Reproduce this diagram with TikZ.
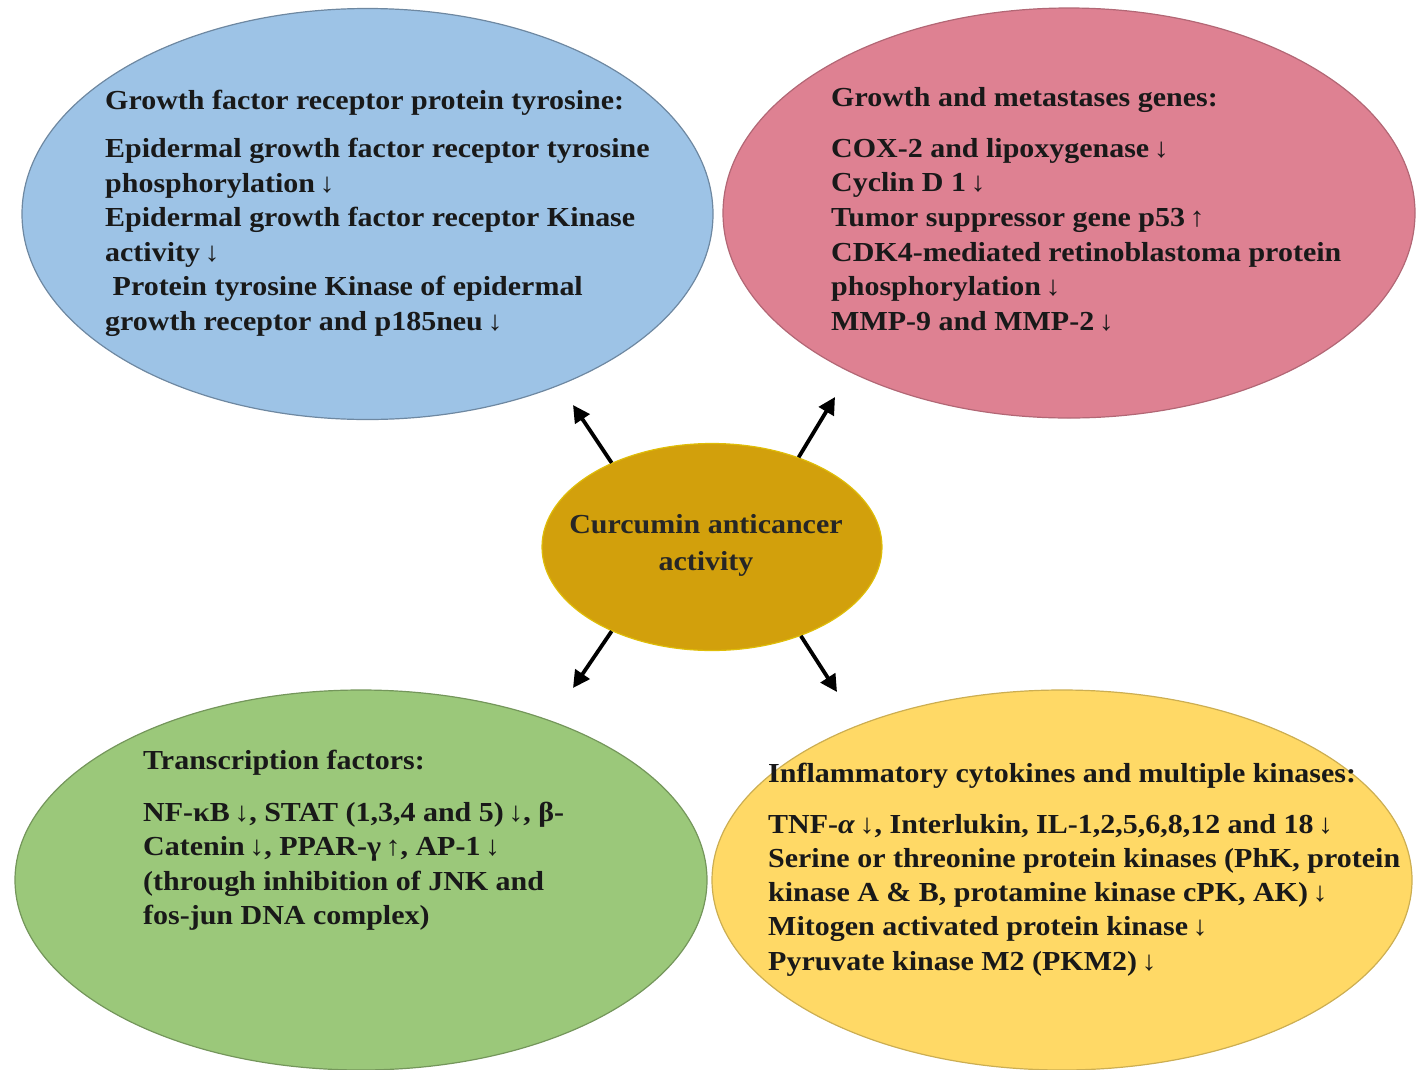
\documentclass[tikz,border=0pt]{standalone}
\usepackage{fontspec}
\setmainfont{Liberation Serif}[FakeStretch=1.09]
\usetikzlibrary{shapes.geometric,arrows.meta}
\definecolor{cblue}{RGB}{157,195,230}
\definecolor{cpink}{RGB}{222,129,146}
\definecolor{cgreen}{RGB}{155,200,122}
\definecolor{cyellow}{RGB}{255,217,102}
\definecolor{cgold}{RGB}{210,160,12}
\begin{document}
\begin{tikzpicture}[x=1pt,y=-1pt,
  blob/.style={ellipse, inner sep=0pt, line width=1.2pt},
  body/.style={anchor=north west, inner sep=0pt, align=left, text=black!90,
    font=\fontsize{27.5}{34.6}\selectfont\bfseries},
  ray/.style={line width=3.8pt, -{Triangle[length=17pt,width=17pt]}}]
\useasboundingbox (0,0) rectangle (1417,1069);
% ellipses
\node[blob, fill=cblue, draw=cblue!70!black, minimum width=691pt, minimum height=411pt] (gf) at (367.5,214) {};
\node[blob, fill=cpink, draw=cpink!80!black, minimum width=692pt, minimum height=410pt] (gm) at (1069,213) {};
\node[blob, fill=cgreen, draw=cgreen!75!black, minimum width=692pt, minimum height=380pt] (tf) at (361,880) {};
\node[blob, fill=cyellow, draw=cyellow!80!black, minimum width=700pt, minimum height=380pt] (ic) at (1062,880) {};
\node[blob, fill=cgold, draw=cgold!70!yellow, minimum width=340pt, minimum height=207pt] (c) at (712,547) {};
% texts
\node[body] (gft) at (105,90) {Growth factor receptor protein tyrosine:\\[13.4pt]
Epidermal growth factor receptor tyrosine\\
phosphorylation\,↓\\
Epidermal growth factor receptor Kinase\\
activity\,↓\\
\ Protein tyrosine Kinase of epidermal\\
growth receptor and p185neu\,↓};
\node[body] (gmt) at (831,87) {Growth and metastases genes:\\[16.4pt]
COX-2 and lipoxygenase\,↓\\
Cyclin D 1\,↓\\
Tumor suppressor gene p53\,↑\\
CDK4-mediated retinoblastoma protein\\
phosphorylation\,↓\\
MMP-9 and MMP-2\,↓};
\node[body] (tft) at (143,750) {Transcription factors:\\[17pt]
NF-κB\,↓, STAT (1,3,4 and 5)\,↓, β-\\
Catenin\,↓, PPAR-γ\,↑, AP-1\,↓\\
(through inhibition of JNK and\\
fos-jun DNA complex)};
\node[body, font=\fontsize{27.5}{34.2}\selectfont\bfseries] (ict) at (768,763) {Inflammatory cytokines and multiple kinases:\\[16.5pt]
TNF-\textit{α}\,↓, Interlukin, IL-1,2,5,6,8,12 and 18\,↓\\
Serine or threonine protein kinases (PhK, protein\\
kinase A \& B, protamine kinase cPK, AK)\,↓\\
Mitogen activated protein kinase\,↓\\
Pyruvate kinase M2 (PKM2)\,↓};
\node[align=center, inner sep=0pt, text=black!85, font=\fontsize{27.5}{37}\selectfont\bfseries] (ct) at (706,545) {Curcumin anticancer\\activity};
% arrow ends
\coordinate (eul) at (573,405);
\coordinate (eur) at (835,397);
\coordinate (ell) at (573,688);
\coordinate (elr) at (837,692);
\draw[ray] (c.140) -- (eul);
\draw[ray] (c.46) -- (eur);
\draw[ray] (c.220) -- (ell);
\draw[ray] (c.-45) -- (elr);
\end{tikzpicture}
\end{document}
